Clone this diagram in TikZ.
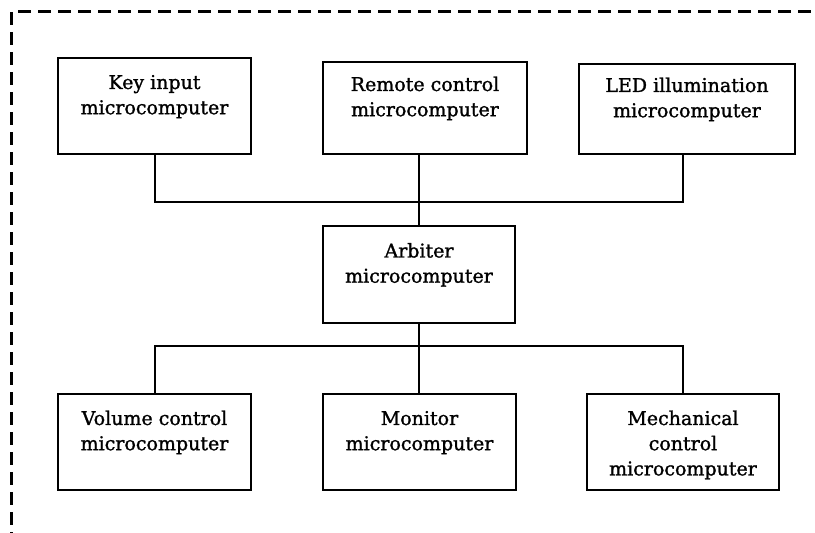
\documentclass[tikz,border=0pt]{standalone}
\usepackage{fontspec}
\setmainfont{DejaVu Serif}
\newfontfamily\mcufont[FakeBold=1.3]{DejaVu Serif}
\usetikzlibrary{calc}
\newcommand{\mcutext}[1]{\parbox[t][40pt][t]{94pt}{\centering\rule{0pt}{11.5pt}#1}}

\begin{document}
\begin{tikzpicture}[x=0.5pt,y=-0.5pt,
  mcu/.style={draw,line width=1pt,inner sep=0pt,font=\mcufont\fontsize{9.5}{12.6}\selectfont},
  bus/.style={line width=1pt},
  frame/.style={line width=1.05pt,dash pattern=on 6.5pt off 3.5pt}]
\useasboundingbox (0,0) rectangle (815,533);

% outer dashed frame, cut by the page
\draw[frame] (11.5,545) |- (830,11.5);

% upper row
\node[mcu,minimum width=96.5pt,minimum height=48pt] (key) at (154.5,106) {\mcutext{Key input\\microcomputer}};
\node[mcu,minimum width=102pt,minimum height=46pt] (rem) at (425,108) {\mcutext{Remote control\\microcomputer}};
\node[mcu,minimum width=108pt,minimum height=45pt] (led) at (687,109) {\mcutext{LED illumination\\microcomputer}};

% arbiter
\node[mcu,minimum width=96pt,minimum height=48.5pt] (arb) at (419,274.5) {\mcutext{Arbiter\\microcomputer}};

% lower row
\node[mcu,minimum width=96.5pt,minimum height=48pt] (vol) at (154.5,442) {\mcutext{Volume control\\microcomputer}};
\node[mcu,minimum width=96.5pt,minimum height=48pt] (mon) at (419.5,442) {\mcutext{Monitor\\microcomputer}};
\node[mcu,minimum width=96pt,minimum height=48pt] (mech) at (683,442) {\mcutext{Mechanical\\control\\microcomputer}};

\coordinate (topbus) at (0,202);
\coordinate (lowbus) at (0,346);
\coordinate (ledfoot) at ($(led.south west)!0.48!(led.south east)$);

\draw[bus] (key.south) |- (ledfoot |- topbus) -- (ledfoot);
\draw[bus] (arb.north) -- (arb.north |- rem.south);
\draw[bus] (vol.north) |- (mech.north |- lowbus) -- (mech.north);
\draw[bus] (arb.south) -- (arb.south |- mon.north);

\end{tikzpicture}
\end{document}
